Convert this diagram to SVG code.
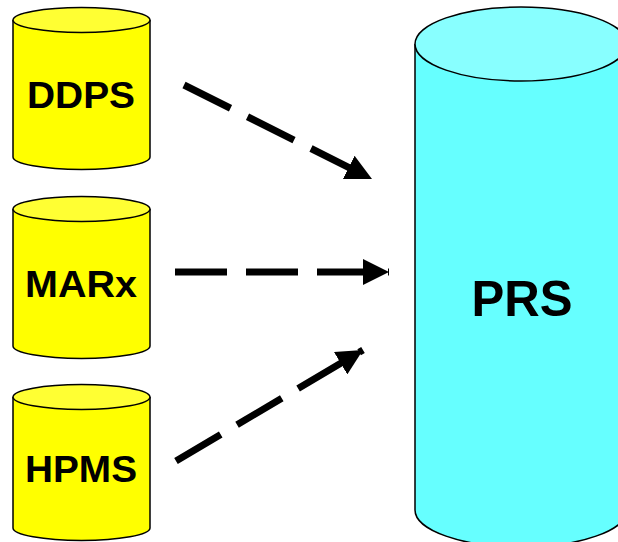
<svg xmlns="http://www.w3.org/2000/svg" width="618" height="542" viewBox="0 0 618 542">
<defs>
<style>
.body-y{fill:#FFFF00;stroke:#000;stroke-width:1.5}
.top-y{fill:#FFFF33;stroke:#000;stroke-width:1.5}
.body-c{fill:#66FFFF;stroke:#000;stroke-width:1.5}
.top-c{fill:#88FFFF;stroke:#000;stroke-width:1.5}
.lbl{font-family:"Liberation Sans",Arial,sans-serif;font-weight:bold;fill:#000;text-anchor:middle}
.arr{fill:none;stroke:#000;stroke-width:7;stroke-dasharray:52 19}
</style>
<marker id="ah" markerUnits="userSpaceOnUse" markerWidth="28" markerHeight="26" refX="26" refY="13" orient="auto">
<polygon points="0,0 26,13 0,26" fill="#000"/>
</marker>
</defs>
<g id="DDPS">
<path class="body-y" d="M13,20 V157 A68.5,12.5 0 0 0 150,157 V20"/>
<ellipse class="top-y" cx="81.5" cy="20" rx="68.5" ry="12.5"/>
<text class="lbl" x="81" y="108" font-size="36" textLength="108" lengthAdjust="spacingAndGlyphs">DDPS</text>
</g>
<g id="MARx">
<path class="body-y" d="M13,209 V346 A68.5,12.5 0 0 0 150,346 V209"/>
<ellipse class="top-y" cx="81.5" cy="209" rx="68.5" ry="12.5"/>
<text class="lbl" x="81" y="297" font-size="36" textLength="112" lengthAdjust="spacingAndGlyphs">MARx</text>
</g>
<g id="HPMS">
<path class="body-y" d="M13,397 V528 A68.5,12.5 0 0 0 150,528 V397"/>
<ellipse class="top-y" cx="81.5" cy="397" rx="68.5" ry="12.5"/>
<text class="lbl" x="81" y="482" font-size="36" textLength="112" lengthAdjust="spacingAndGlyphs">HPMS</text>
</g>
<g id="PRS">
<path class="body-c" d="M415,44 V510 A106,37 0 0 0 627,510 V44"/>
<ellipse class="top-c" cx="521" cy="44" rx="106" ry="37"/>
<text class="lbl" x="522" y="316" font-size="50" textLength="101" lengthAdjust="spacingAndGlyphs">PRS</text>
</g>
<g id="connectors">
<path class="arr" d="M184,85 L372,179" marker-end="url(#ah)"/>
<path class="arr" d="M175,272 L389,272" marker-end="url(#ah)"/>
<path class="arr" d="M176,461 L363,350" marker-end="url(#ah)"/>
</g>
</svg>
